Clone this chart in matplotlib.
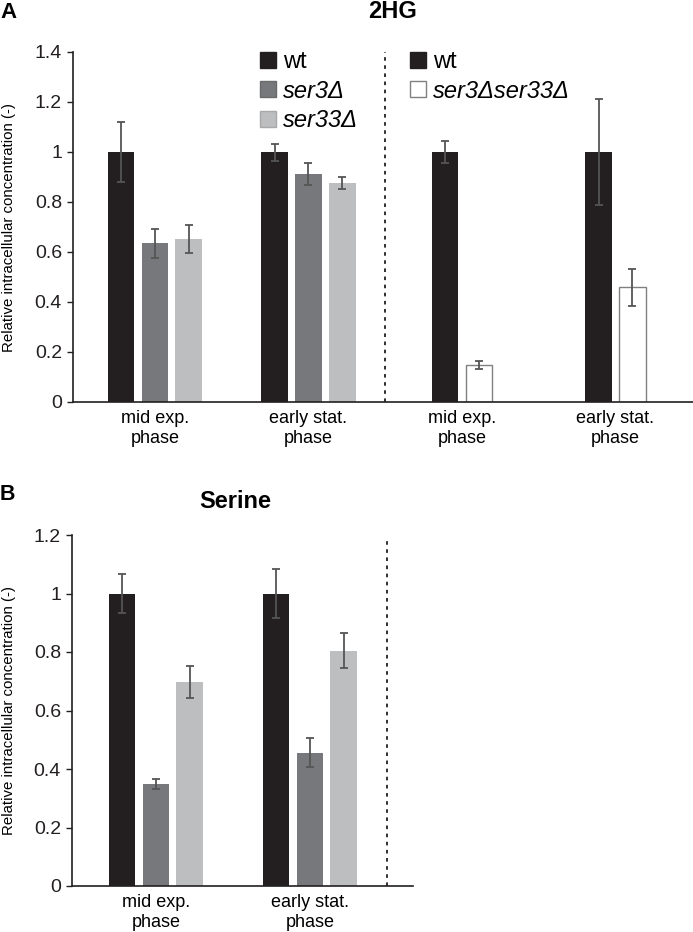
import matplotlib
matplotlib.use("Agg")
import matplotlib.pyplot as plt
from matplotlib.patches import Patch

plt.rcParams['font.family'] = ['Liberation Sans', 'DejaVu Sans']

# data
phases = ["mid exp.\nphase", "early stat.\nphase"]

# panel A: 2HG
hg_wt = [1.0, 1.0]
hg_wt_err = [0.119, 0.034]
hg_ser3 = [0.635, 0.913]
hg_ser3_err = [0.057, 0.043]
hg_ser33 = [0.651, 0.875]
hg_ser33_err = [0.055, 0.024]
hg_wt_b = [1.0, 1.0]
hg_wt_b_err = [0.045, 0.211]
hg_double = [0.148, 0.459]
hg_double_err = [0.015, 0.073]

# panel B: Serine
ser_wt = [1.0, 1.0]
ser_wt_err = [0.066, 0.085]
ser_ser3 = [0.348, 0.456]
ser_ser3_err = [0.018, 0.049]
ser_ser33 = [0.698, 0.805]
ser_ser33_err = [0.054, 0.061]

yticks_a = [0, 0.2, 0.4, 0.6, 0.8, 1.0, 1.2, 1.4]
ytick_labels_a = ["0", "0.2", "0.4", "0.6", "0.8", "1", "1.2", "1.4"]
yticks_b = [0, 0.2, 0.4, 0.6, 0.8, 1.0, 1.2]
ytick_labels_b = ["0", "0.2", "0.4", "0.6", "0.8", "1", "1.2"]

# colours
c_wt = "#231f20"
c_ser3 = "#77787b"
c_ser33 = "#bcbec0"
c_err = "#555555"

W, H = 693, 932
fig = plt.figure(figsize=(W / 100, H / 100), dpi=100)

bw = 0.173
err_kw = dict(ecolor=c_err, elinewidth=1.3, capsize=3, capthick=1.3)


def style_axes(ax, yticks, ylabels):
    for s in ["top", "right"]:
        ax.spines[s].set_visible(False)
    for s in ["left", "bottom"]:
        ax.spines[s].set_color(c_wt)
        ax.spines[s].set_linewidth(1.2)
    ax.set_yticks(yticks)
    ax.set_yticklabels(ylabels, fontsize=14)
    ax.tick_params(axis="y", direction="out", length=4, width=1, pad=4, colors=c_wt)
    ax.tick_params(axis="x", length=0, pad=6, labelsize=13)
    ax.set_ylim(0, yticks[-1])


# ---- panel A ----
axA = fig.add_axes([73 / W, 1 - 402 / H, 620 / W, 350 / H])
g3 = [0, 1]
axA.bar([g - 0.22 for g in g3], hg_wt, bw, color=c_wt, yerr=hg_wt_err, error_kw=err_kw)
axA.bar(g3, hg_ser3, bw, color=c_ser3, yerr=hg_ser3_err, error_kw=err_kw)
axA.bar([g + 0.22 for g in g3], hg_ser33, bw, color=c_ser33, yerr=hg_ser33_err, error_kw=err_kw)
g2 = [2, 3]
axA.bar([g - 0.11 for g in g2], hg_wt_b, bw, color=c_wt, yerr=hg_wt_b_err, error_kw=err_kw)
axA.bar([g + 0.11 for g in g2], hg_double, bw, color="white", edgecolor="#808080",
        linewidth=1, yerr=hg_double_err, error_kw=err_kw)
axA.axvline(1.5, color=c_wt, ls=(0, (2, 2.5)), lw=1.3)
axA.set_xlim(-0.534, 3.505)
axA.set_xticks([0, 1, 2, 3])
axA.set_xticklabels(phases * 2)
style_axes(axA, yticks_a, ytick_labels_a)
axA.set_ylabel("Relative intracellular concentration (-)", fontsize=10.8)
axA.yaxis.set_label_coords(-0.092, 0.5)

leg_kw = dict(loc="upper left", bbox_transform=fig.transFigure, frameon=False,
              borderpad=0, borderaxespad=0, fontsize=17, handlelength=0.68,
              handleheight=0.65, handletextpad=0.3, labelspacing=0.28)
leg1 = axA.legend([Patch(color=c_wt), Patch(color=c_ser3, ec="#6a6a6a"), Patch(color=c_ser33, ec="#a8a8a8")],
                  ["wt", "ser3\u0394", "ser33\u0394"],
                  bbox_to_anchor=(260 / W, 1 - 51 / H), **leg_kw)
for t in leg1.get_texts()[1:]:
    t.set_fontstyle("italic")
axA.add_artist(leg1)
leg2 = axA.legend([Patch(color=c_wt), Patch(facecolor="white", edgecolor="#808080")],
                  ["wt", "ser3\u0394ser33\u0394"],
                  bbox_to_anchor=(410 / W, 1 - 51 / H), **leg_kw)
leg2.get_texts()[1].set_fontstyle("italic")

fig.text(0, 1 - 12 / H, "A", fontsize=16, fontweight="bold", va="center", ha="left")
fig.text(393 / W, 1 - 12 / H, "2HG", fontsize=17, fontweight="bold", va="center", ha="center")

# ---- panel B ----
axB = fig.add_axes([72 / W, 1 - 886 / H, 341 / W, 351 / H])
axB.bar([g - 0.22 for g in g3], ser_wt, bw, color=c_wt, yerr=ser_wt_err, error_kw=err_kw)
axB.bar(g3, ser_ser3, bw, color=c_ser3, yerr=ser_ser3_err, error_kw=err_kw)
axB.bar([g + 0.22 for g in g3], ser_ser33, bw, color=c_ser33, yerr=ser_ser33_err, error_kw=err_kw)
axB.axvline(1.5, ymax=0.985, color=c_wt, ls=(0, (2, 2.5)), lw=1.3)
axB.set_xlim(-0.545, 1.67)
axB.set_xticks([0, 1])
axB.set_xticklabels(phases)
style_axes(axB, yticks_b, ytick_labels_b)
axB.set_ylabel("Relative intracellular concentration (-)", fontsize=10.8)
axB.yaxis.set_label_coords(-0.164, 0.5)

fig.text(0, 1 - 495 / H, "B", fontsize=15.5, fontweight="bold", va="center", ha="left")
fig.text(235 / W, 1 - 502 / H, "Serine", fontsize=17, fontweight="bold", va="center", ha="center")

fig.savefig("out.png", dpi=100)
